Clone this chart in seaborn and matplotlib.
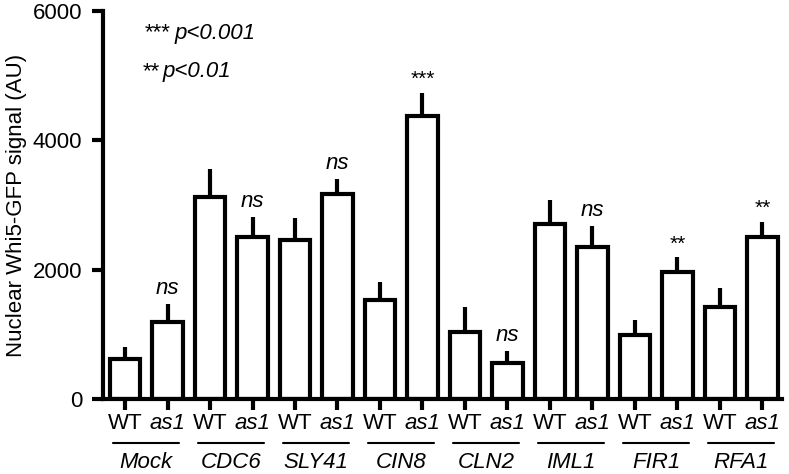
import numpy as np
import pandas as pd
from matplotlib import pyplot as plt
from matplotlib import transforms
import seaborn as sns

groups = ["Mock", "CDC6", "SLY41", "CIN8", "CLN2", "IML1", "FIR1", "RFA1"]
strains = ["WT", "as1"]
wt_mean = [620, 3120, 2460, 1530, 1035, 2705, 990, 1420]
as1_mean = [1190, 2505, 3170, 4375, 555, 2350, 1960, 2505]
wt_err = [185, 430, 340, 280, 385, 370, 230, 295]
as1_err = [280, 310, 230, 355, 185, 325, 230, 230]
stars = ["ns", "ns", "ns", "***", "ns", "ns", "**", "**"]

rows = []
for g, wm, am, we, ae in zip(groups, wt_mean, as1_mean, wt_err, as1_err):
    rows.append({"group": g, "strain": "WT", "mean": wm, "err": we})
    rows.append({"group": g, "strain": "as1", "mean": am, "err": ae})
df = pd.DataFrame(rows)
df["bar"] = np.arange(len(df))

sns.set_style("ticks")
plt.rcParams['font.family'] = ['Liberation Sans', 'DejaVu Sans']
plt.rcParams['text.color'] = 'black'
plt.rcParams['axes.labelcolor'] = 'black'
plt.rcParams['xtick.color'] = 'black'
plt.rcParams['ytick.color'] = 'black'

fig = plt.figure(figsize=(7.89, 4.74), dpi=100)
ax = fig.add_axes([0.1305, 0.158, 0.8605, 0.819])

sns.barplot(data=df, x="bar", y="mean", color="white", edgecolor="black",
            linewidth=3, width=0.72, ax=ax, zorder=2)
ax.errorbar(df["bar"], df["mean"], yerr=[np.zeros(len(df)), df["err"]],
            fmt="none", ecolor="black", elinewidth=3, capsize=0, zorder=1)

ax.set_ylim(0, 6000)
ax.set_xlim(-0.52, 15.46)
ax.set_yticks([0, 2000, 4000, 6000])
ax.set_xticks(df["bar"])
ax.set_xticklabels(df["strain"])
for lab in ax.get_xticklabels():
    if lab.get_text() == "as1":
        lab.set_fontstyle("italic")
ax.tick_params(axis="both", labelsize=16, width=3, length=8, color="black")
ax.tick_params(axis="x", pad=2)
ax.tick_params(axis="y", pad=7)
ax.set_xlabel("")
ax.set_ylabel("Nuclear Whi5-GFP signal (AU)", fontsize=16, labelpad=4)
for s in ["top", "right"]:
    ax.spines[s].set_visible(False)
for s in ["left", "bottom"]:
    ax.spines[s].set_linewidth(3)
    ax.spines[s].set_color("black")

# significance labels above as1 bars
for i, s in enumerate(stars):
    idx = 2 * i + 1
    top = as1_mean[i] + as1_err[i]
    if s == "ns":
        ax.text(idx, top + 80, s, ha="center", va="bottom", fontsize=16, style="italic")
    else:
        ax.text(idx, top + 60, s, ha="center", va="bottom", fontsize=15)

# group labels with underline
trans = transforms.blended_transform_factory(ax.transData, ax.transAxes)
for i, g in enumerate(groups):
    c = 2 * i + 0.5
    ax.plot([c - 0.78, c + 0.78], [-0.113, -0.113], color="black", lw=1.5,
            transform=trans, clip_on=False)
    ax.text(c, -0.164, g, ha="center", va="center", fontsize=16, style="italic",
            transform=trans)

# p-value key
ax.text(0.062, 0.943, "***", transform=ax.transAxes, fontsize=16, va="center", ha="left")
ax.text(0.106, 0.943, "p<0.001", transform=ax.transAxes, fontsize=16, va="center",
        ha="left", style="italic")
ax.text(0.058, 0.843, "**", transform=ax.transAxes, fontsize=16, va="center", ha="left")
ax.text(0.088, 0.843, "p<0.01", transform=ax.transAxes, fontsize=16, va="center",
        ha="left", style="italic")

fig.savefig("out.png", dpi=100)
